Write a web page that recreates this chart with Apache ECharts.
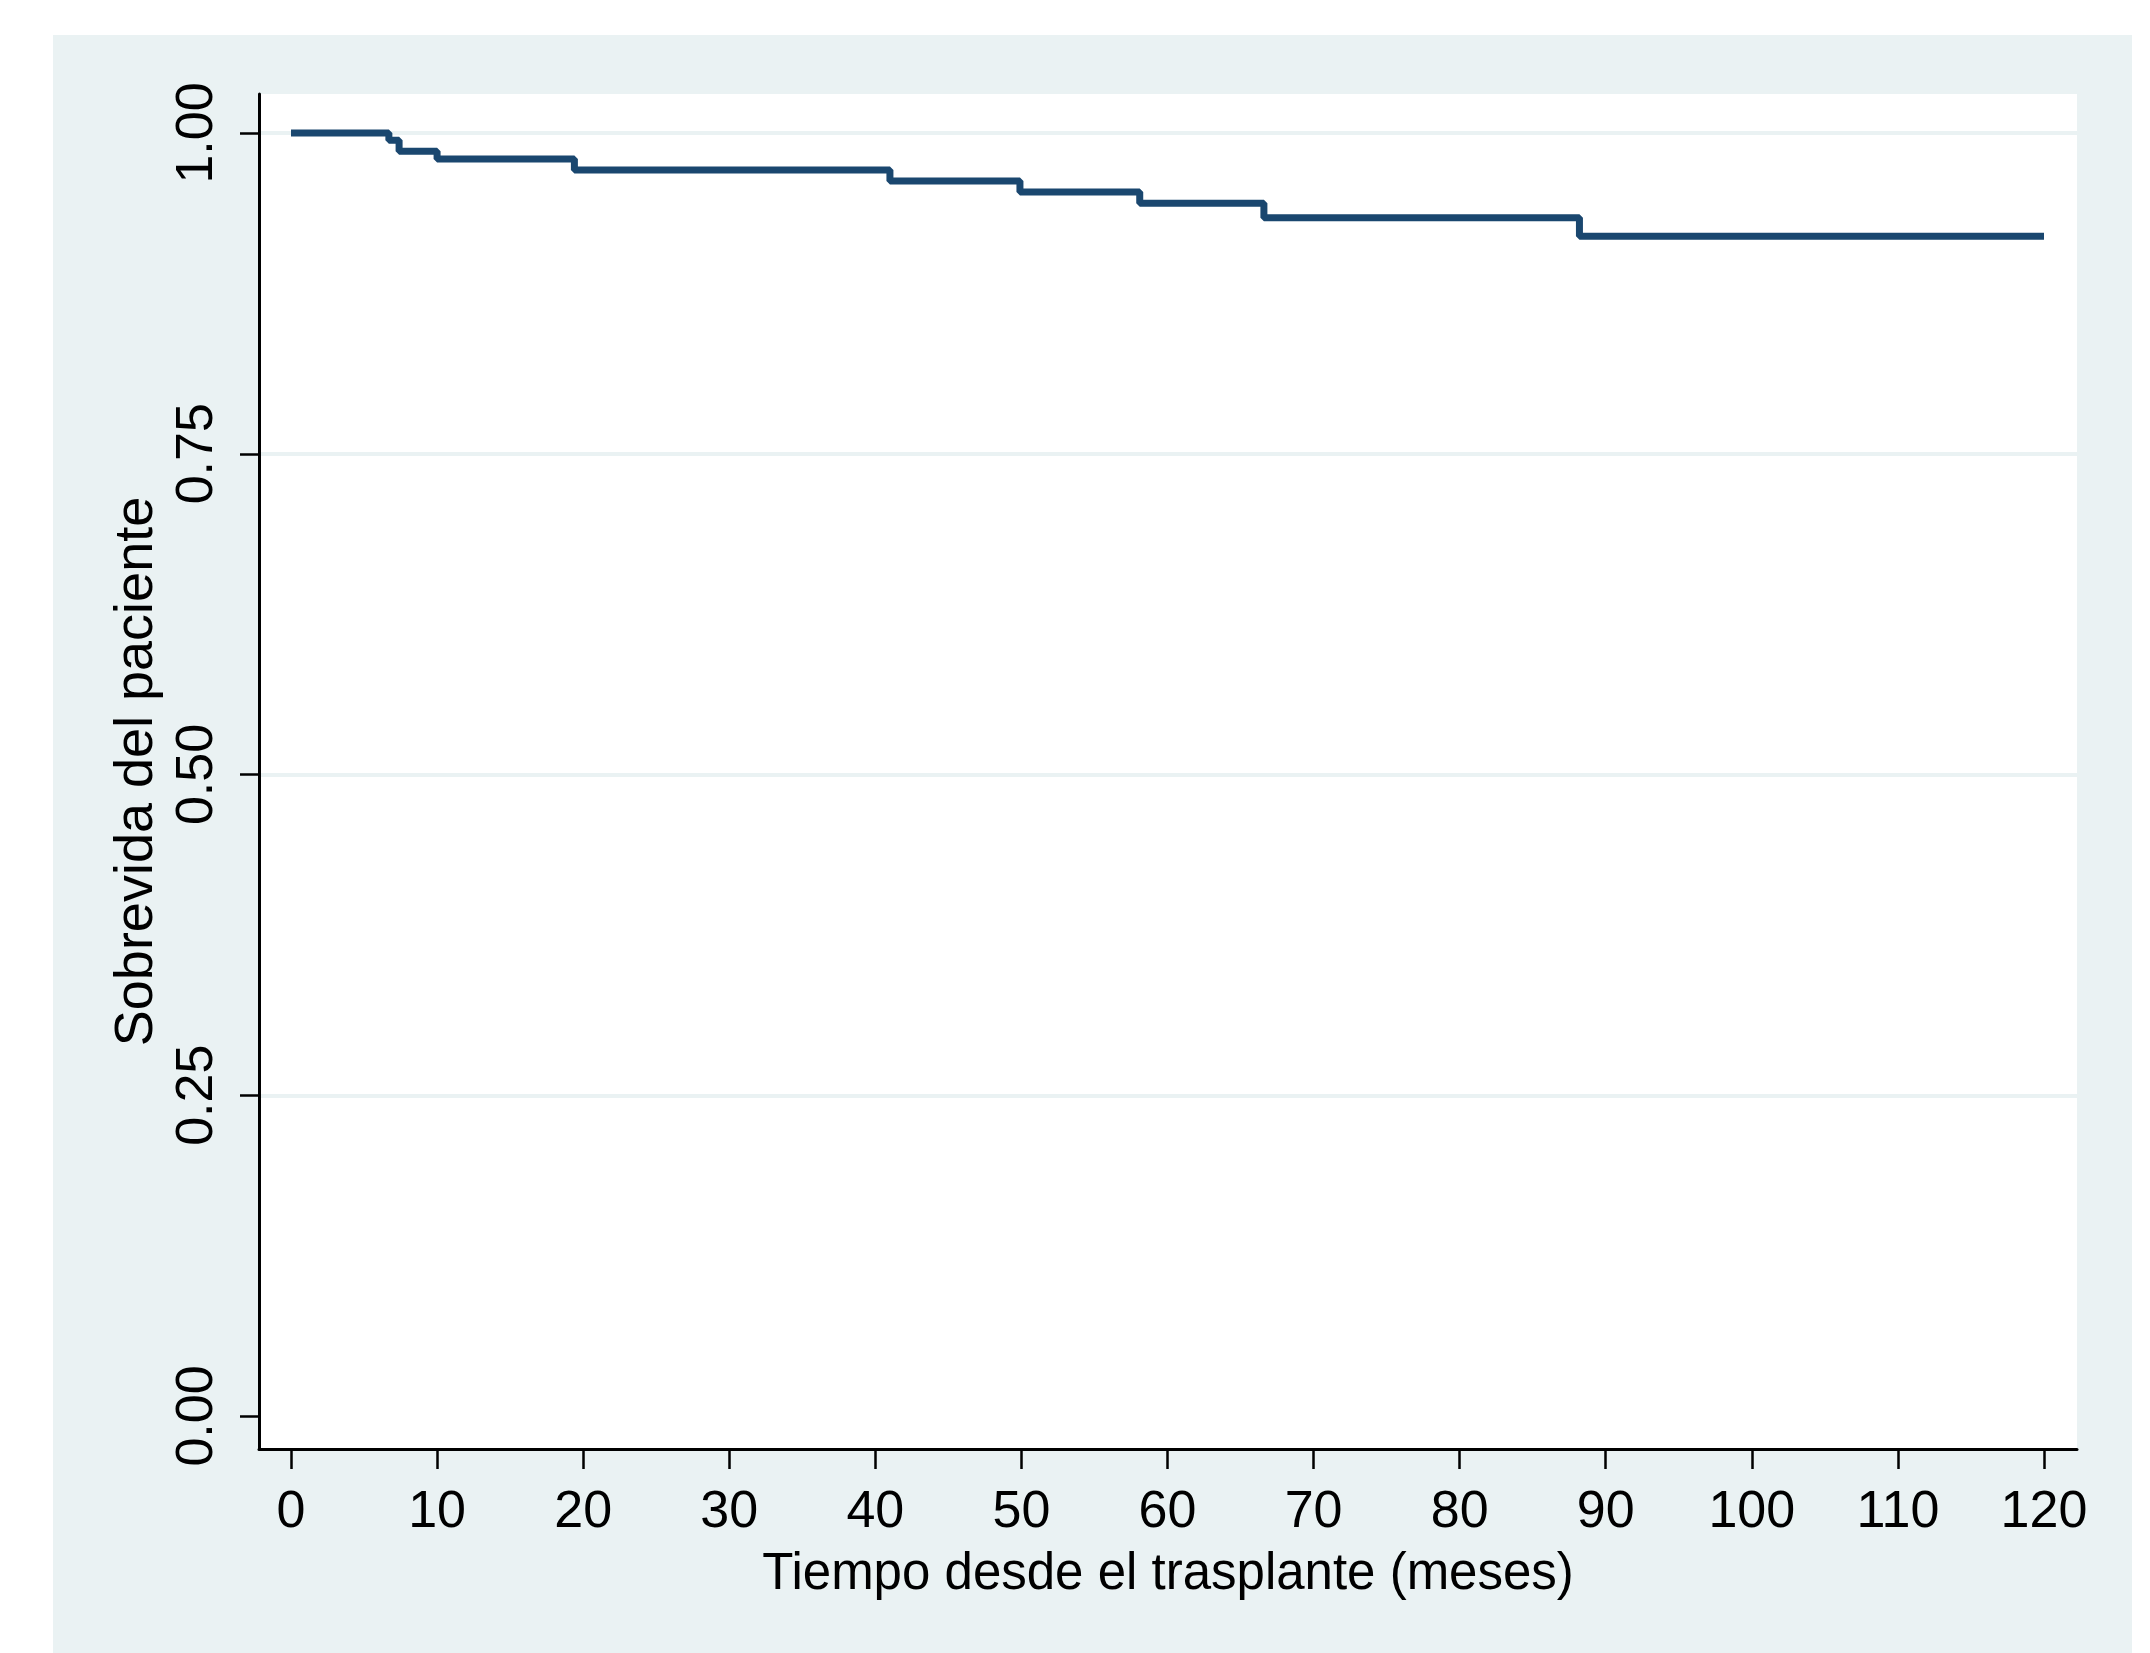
<!DOCTYPE html>
<html>
<head>
<meta charset="utf-8">
<script src="https://cdn.jsdelivr.net/npm/echarts@6/dist/echarts.min.js"></script>
<style>
  html, body { margin: 0; padding: 0; background: #ffffff; }
  #bg { position: absolute; left: 53px; top: 35px; width: 2079px; height: 1618px; background: #eaf2f3; }
  #chart { position: absolute; left: 0; top: 0; width: 2150px; height: 1653px; }
</style>
</head>
<body>
<div id="bg"></div>
<div id="chart"></div>
<script>
// Kaplan-Meier step points (time in months, survival probability)
const timeMonths = [0, 6.7, 7.4, 10.0, 19.4, 41.0, 49.9, 58.1, 66.6, 88.2, 120];
const survival   = [1.0, 0.9943, 0.9857, 0.9798, 0.9712, 0.9626, 0.9541, 0.9453, 0.9339, 0.9196, 0.9196];
const xTicks = [0, 10, 20, 30, 40, 50, 60, 70, 80, 90, 100, 110, 120];
const yTicks = [0, 0.25, 0.5, 0.75, 1];
const xTitle = 'Tiempo desde el trasplante (meses)';
const yTitle = 'Sobrevida del paciente';

const FONT = "'Liberation Sans', Arial, Helvetica, sans-serif";
const chart = echarts.init(document.getElementById('chart'), null, { renderer: 'canvas' });

chart.setOption({
  animation: false,
  backgroundColor: 'transparent',
  grid: {
    left: 259, top: 94, width: 1818, height: 1355,
    show: true, backgroundColor: '#ffffff', borderWidth: 0
  },
  xAxis: {
    type: 'value', min: -2.19, max: 122.26,
    axisLine: { show: true, onZero: false, lineStyle: { color: '#000', width: 3 } },
    axisTick: { show: true, customValues: xTicks, length: 20, lineStyle: { color: '#000', width: 2.5 } },
    axisLabel: { show: true, customValues: xTicks, margin: 38, fontSize: 52, fontFamily: FONT, color: '#000' },
    splitLine: { show: false },
    name: xTitle, nameLocation: 'middle', nameGap: 100,
    nameTextStyle: { fontSize: 51, fontFamily: FONT, color: '#000' }
  },
  yAxis: {
    type: 'value', min: -0.02572, max: 1.0304,
    axisLine: { show: true, onZero: false, lineStyle: { color: '#000', width: 3 } },
    axisTick: { show: true, customValues: yTicks, length: 19, lineStyle: { color: '#000', width: 2.5 } },
    axisLabel: {
      show: true, customValues: yTicks, rotate: 90, margin: 35,
      fontSize: 52, fontFamily: FONT, color: '#000',
      formatter: v => Number(v).toFixed(2)
    },
    splitLine: {
      show: true,
      lineStyle: { color: ['rgba(0,0,0,0)', '#eaf2f3', '#eaf2f3', '#eaf2f3', '#eaf2f3'], width: 4 }
    },
    name: yTitle, nameLocation: 'middle', nameGap: 93, nameRotate: 90,
    nameTextStyle: { fontSize: 54, fontFamily: FONT, color: '#000' }
  },
  series: [{
    type: 'line',
    step: 'end',
    symbol: 'none',
    showSymbol: false,
    lineStyle: { color: '#1a476f', width: 7 },
    data: timeMonths.map((t, i) => [t, survival[i]])
  }]
});
</script>
</body>
</html>
